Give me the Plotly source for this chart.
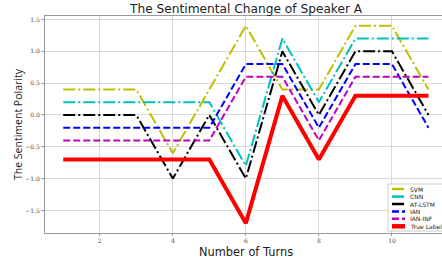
import plotly.graph_objects as go

turns = [1, 2, 3, 4, 5, 6, 7, 8, 9, 10, 11]
svm = [0.4, 0.4, 0.4, -0.6, 0.4, 1.4, 0.4, 0.4, 1.4, 1.4, 0.4]
cnn = [0.2, 0.2, 0.2, 0.2, 0.2, -0.8, 1.2, 0.2, 1.2, 1.2, 1.2]
at_lstm = [0.0, 0.0, 0.0, -1.0, 0.0, -1.0, 1.0, 0.0, 1.0, 1.0, 0.0]
ian = [-0.2, -0.2, -0.2, -0.2, -0.2, 0.8, 0.8, -0.2, 0.8, 0.8, -0.2]
ian_inf = [-0.4, -0.4, -0.4, -0.4, -0.4, 0.6, 0.6, -0.4, 0.6, 0.6, 0.6]
true_label = [-0.7, -0.7, -0.7, -0.7, -0.7, -1.7, 0.3, -0.7, 0.3, 0.3, 0.3]

DASHDOT = "12px,3px,2px,3px"
DASHED = "7px,3px"
series = [
    ("SVM", svm, "#bfbf00", DASHDOT, 2),
    ("CNN", cnn, "#00bfbf", DASHDOT, 2),
    ("AT-LSTM", at_lstm, "#000000", DASHDOT, 2),
    ("IAN", ian, "#0000ff", DASHED, 2),
    ("IAN-INF", ian_inf, "#bf00bf", DASHED, 2),
    ("True Label", true_label, "#ff0000", "solid", 4),
]

W, H = 442, 260
L, R, T, B = 45, 0, 16, 27
pw, ph = W - L - R, H - T - B

def px(x):
    return (x - L) / pw

def py(y):
    return (H - B - y) / ph

fig = go.Figure()
for name, vals, col, dash, w in series:
    fig.add_trace(go.Scatter(x=turns, y=vals, mode="lines", name=name,
                             line=dict(color=col, dash=dash, width=w)))

# compact legend (matplotlib-style)
shapes = [dict(type="rect", xref="paper", yref="paper", x0=px(388), x1=px(444),
               y0=py(231), y1=py(184), line=dict(color="#cccccc", width=1),
               fillcolor="rgba(255,255,255,0.85)", layer="above")]
annotations = []
ys = [189, 196.6, 204, 211.4, 218.8, 226.3]
for (name, vals, col, dash, w), yy in zip(series, ys):
    shapes.append(dict(type="line", xref="paper", yref="paper", x0=px(392), x1=px(405),
                       y0=py(yy), y1=py(yy), line=dict(color=col, dash=dash, width=w + 0.5),
                       layer="above"))
    annotations.append(dict(xref="paper", yref="paper", x=px(408), y=py(yy), text=name,
                            showarrow=False, xanchor="left", yanchor="middle",
                            font=dict(size=6, color="#222222", family="DejaVu Sans")))

annotations.append(dict(xref="paper", yref="paper", x=px(245.5), y=py(9),
                        text="The Sentimental Change of Speaker A", showarrow=False,
                        xanchor="center", yanchor="middle",
                        font=dict(size=12.2, color="#222222", family="DejaVu Sans")))
annotations.append(dict(xref="paper", yref="paper", x=px(245.5), y=py(251.5),
                        text="Number of Turns", showarrow=False,
                        xanchor="center", yanchor="middle",
                        font=dict(size=11.4, color="#222222", family="DejaVu Sans")))
annotations.append(dict(xref="paper", yref="paper", x=px(18), y=py(124),
                        text="The Sentiment Polarity", showarrow=False, textangle=-90,
                        xanchor="center", yanchor="middle",
                        font=dict(size=10.5, color="#222222", family="Open Sans")))

fig.update_layout(
    width=W, height=H,
    margin=dict(l=L, r=R, t=T, b=B, autoexpand=False),
    paper_bgcolor="white", plot_bgcolor="white",
    showlegend=False,
    shapes=shapes, annotations=annotations,
    xaxis=dict(range=[0.5, 11 + (442 - 428.4) / 36.7], tickvals=[2, 4, 6, 8, 10],
               showgrid=True, gridcolor="#d9d9d9", gridwidth=1,
               showline=True, linecolor="#999999", linewidth=1, mirror=True,
               ticks="outside", ticklen=2, tickcolor="#999999",
               tickfont=dict(size=6, family="DejaVu Serif", color="#444444"),
               zeroline=False),
    yaxis=dict(range=[-1.855, 1.555], tickvals=[-1.5, -1.0, -0.5, 0.0, 0.5, 1.0, 1.5],
               ticktext=["\u22121.5", "\u22121.0", "\u22120.5", "0.0", "0.5", "1.0", "1.5"],
               showgrid=True, gridcolor="#d9d9d9", gridwidth=1,
               showline=True, linecolor="#999999", linewidth=1, mirror=True,
               ticks="outside", ticklen=3, tickcolor="#999999",
               tickfont=dict(size=6, family="DejaVu Serif", color="#444444"),
               zeroline=False),
)

fig.write_html("out.html", config={"displayModeBar": False},
               post_script="document.body.style.margin='0';")
